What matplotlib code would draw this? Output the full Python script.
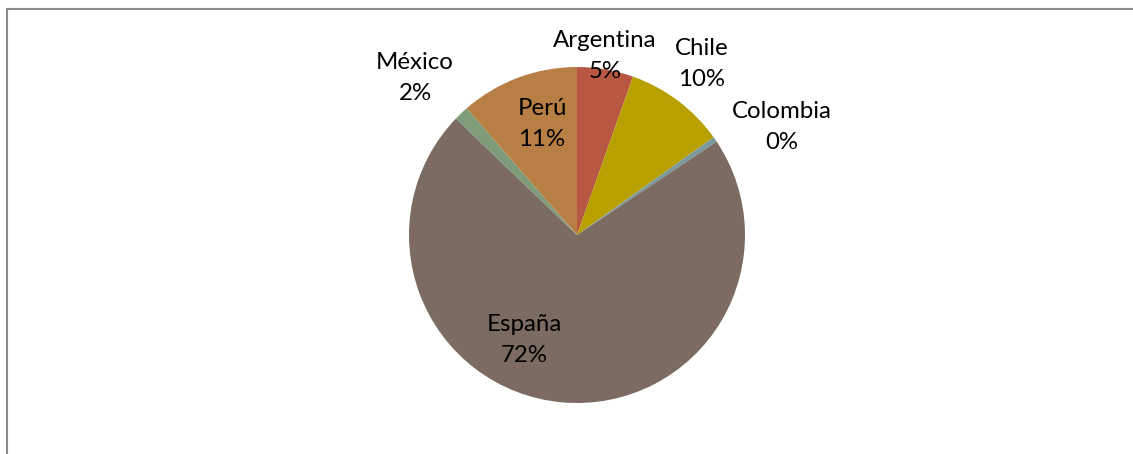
import matplotlib
matplotlib.use("Agg")
import matplotlib.pyplot as plt
from matplotlib.patches import Rectangle

# Data
countries = ["Argentina", "Chile", "Colombia", "España", "México", "Perú"]
shares = [5.4, 9.7, 0.5, 71.5, 1.4, 11.4]
pct_labels = ["5%", "10%", "0%", "72%", "2%", "11%"]
colors = ["#B85843", "#B7A000", "#7B9AA0", "#7B6B60", "#7E9B7A", "#B87F45"]

# Layout (pixel coordinates, y measured from top)
W, H = 1133, 454
center = (577, 235)
radius = 168
label_xy = [(605, 56), (702, 64), (782, 127), (524, 340), (415, 78), (542, 124)]

plt.rcParams['font.family'] = ['Lato', 'DejaVu Sans']

fig = plt.figure(figsize=(W / 100, H / 100), dpi=100)
fig.patch.set_facecolor("white")
ax = fig.add_axes([0, 0, 1, 1])

ax.pie(shares, colors=colors, startangle=90, counterclock=False,
       center=(center[0], H - center[1]), radius=radius,
       wedgeprops=dict(linewidth=0), frame=True)
ax.set_xlim(0, W)
ax.set_ylim(0, H)
ax.set_aspect("equal")
ax.axis("off")

for name, pct, (x, y) in zip(countries, pct_labels, label_xy):
    ax.text(x, H - y, f"{name}\n{pct}", ha="center", va="center",
            fontsize=17.3, color="black", linespacing=1.58)

# chart frame (only top and left visible)
fig.patches.append(Rectangle((7 / W, -0.1), 1.2, (H - 9) / H + 0.1,
                             transform=fig.transFigure, fill=False,
                             edgecolor="#8A8A8A", linewidth=1.5))

fig.savefig("out.png", dpi=100)
